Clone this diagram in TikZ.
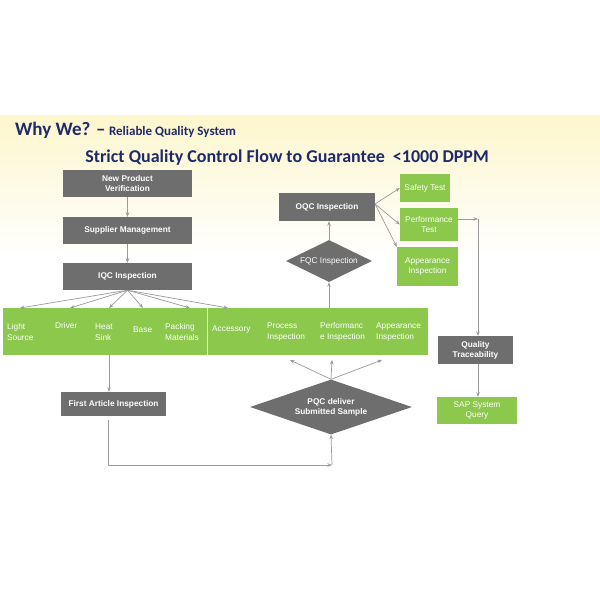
\documentclass[tikz,border=0pt]{standalone}
\usepackage{fontspec}
\setmainfont{Liberation Sans}
\newfontfamily\titlef{Carlito}
\usetikzlibrary{shapes.geometric,arrows.meta}
\definecolor{gbox}{HTML}{6E6E6E}
\definecolor{grn}{HTML}{8CC84B}
\definecolor{navy}{HTML}{1F2A6B}
\definecolor{ln}{HTML}{9A9A9A}
\begin{document}
\begin{tikzpicture}[x=1pt,y=-1pt,
  gb/.style={fill=gbox,text=white,font=\bfseries\fontsize{8.3}{10}\selectfont,align=center,inner sep=0pt},
  gr/.style={fill=grn,text=white,font=\fontsize{8.3}{10}\selectfont,align=center,inner sep=0pt},
  lab/.style={text=white,font=\fontsize{8.3}{11}\selectfont,align=left,anchor=west,inner sep=0pt},
  ar/.style={draw=ln,line width=0.7pt,-{Stealth[length=4.5pt,width=3.5pt]}},
  pl/.style={draw=ln,line width=0.7pt}]
\useasboundingbox (0,0) rectangle (600,600);
\fill[white] (0,0) rectangle (600,600);
\shade[top color={rgb,255:red,253;green,246;blue,205},bottom color=white] (0,115) rectangle (600,260);
\fill[white] (0,260) rectangle (600,490);
% titles
\node[anchor=base west,inner sep=0pt,text=navy,font=\titlef\bfseries\fontsize{19}{21}\selectfont] (t1) at (15,135) {Why We? –};
\node[anchor=base west,inner sep=0pt,text=navy,font=\titlef\bfseries\fontsize{13}{15}\selectfont] (t2) at (t1.base east) {\ Reliable Quality System};
\node[anchor=center,inner sep=0pt,text=navy,font=\titlef\bfseries\fontsize{18}{20}\selectfont] (t3) at (287,158) {Strict Quality Control Flow to Guarantee\ \ {<}1000 DPPM};
% left column
\node[gb,minimum width=129pt,minimum height=27pt] (npv) at (127.5,183.5) {New Product\\Verification};
\node[gb,minimum width=129pt,minimum height=27pt] (sm) at (127.5,230.5) {Supplier Management};
\node[gb,minimum width=129pt,minimum height=27pt] (iqc) at (127.5,276.5) {IQC Inspection};
\draw[ar] (npv.south) -- (sm.north);
\draw[ar] (sm.south) -- (iqc.north);
% green bar
\node[fill=grn,minimum width=425pt,minimum height=47pt,inner sep=0pt] (bar) at (215.5,331.5) {};
\draw[white!80!grn,line width=0.6pt] (207,308) -- (207,355);
\node[lab] (l1) at (7,332) {Light\\Source};
\node[lab] (l2) at (55,326) {Driver};
\node[lab] (l3) at (95,332) {Heat\\Sink};
\node[lab] (l4) at (133,330) {Base};
\node[lab] (l5) at (165,332) {Packing\\Materials};
\node[lab] (l6) at (212,330) {Accessory};
\node[lab] (l7) at (267,332) {Process\\Inspection};
\node[lab] (l8) at (320,332) {Performanc\\e Inspection};
\node[lab] (l9) at (376,332) {Appearance\\Inspection};
% fan-out
\foreach \xx in {20,70,109,143,190,228}{\draw[ar] (iqc.south) -- (\xx,308);}
% first article
\node[gb,minimum width=105pt,minimum height=24pt] (fa) at (113.5,404) {First Article Inspection};
\draw[ar] (109,355) -- (fa.north -| 109,0);
\coordinate (c1) at (108,465);
\coordinate (c2) at (332,465);
\node[diamond,fill=gbox,text=white,font=\bfseries\fontsize{8.3}{10}\selectfont,align=center,inner sep=0pt,aspect=2.9,minimum width=162pt,minimum height=55pt] (pqc) at (331,407) {PQC deliver\\Submitted Sample};
\draw[pl] (108,420) -- (c1);
\draw[ar] (c1) -- (c2);
\draw[ar] (c2) -- (pqc.south);
\draw[ar] (pqc.north) -- (290,360);
\draw[ar] (pqc.north) -- (332,360);
\draw[ar] (pqc.north) -- (382,360);
% FQC / OQC
\node[diamond,fill=gbox,text=white,font=\fontsize{8.3}{10}\selectfont,inner sep=0pt,aspect=2,minimum width=86pt,minimum height=42pt] (fqc) at (329,261) {FQC Inspection};
\node[gb,minimum width=96pt,minimum height=28pt] (oqc) at (327,207) {OQC Inspection};
\draw[ar] (329,308) -- (fqc.south);
\draw[ar] (fqc.north) -- (oqc.south -| fqc.north);
\node[gr,minimum width=50pt,minimum height=28pt] (st) at (425,188) {Safety Test};
\node[gr,minimum width=58pt,minimum height=33pt] (pt) at (429,224.5) {Performance\\Test};
\node[gr,minimum width=61pt,minimum height=39pt] (ai) at (427.5,266.5) {Appearance\\Inspection};
\coordinate (o) at (375,204);
\draw[ar] (o) -- (st.west);
\draw[ar] (o) -- (pt.west);
\draw[ar] (o) -- (ai.north west);
% traceability
\node[gb,minimum width=75pt,minimum height=28pt] (qt) at (475.5,350) {Quality\\Traceability};
\node[gr,minimum width=80pt,minimum height=27pt] (sap) at (477,410.5) {SAP System\\Query};
\coordinate (c3) at (478,219);
\draw[ar] (pt.east |- c3) -- (c3);
\draw[ar] (c3) -- (qt.north -| c3);
\draw[ar] (qt.south -| c3) -- (sap.north -| c3);
\end{tikzpicture}
\end{document}
